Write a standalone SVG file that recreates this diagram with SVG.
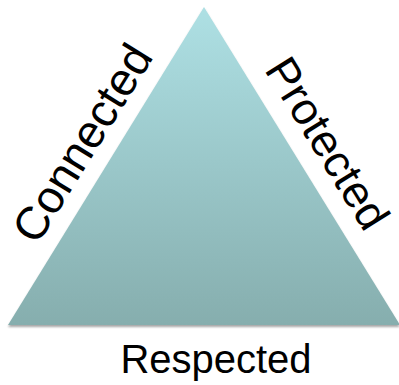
<svg xmlns="http://www.w3.org/2000/svg" width="399" height="385" viewBox="0 0 399 385">
<defs>
<linearGradient id="g" x1="0" y1="0" x2="0" y2="1">
<stop offset="0" stop-color="#AEE0E4"/>
<stop offset="1" stop-color="#86AEAE"/>
</linearGradient>
<filter id="sh" x="-5%" y="-5%" width="110%" height="115%">
<feGaussianBlur in="SourceAlpha" stdDeviation="1.2"/>
<feOffset dy="2" result="b"/>
<feComponentTransfer><feFuncA type="linear" slope="0.35"/></feComponentTransfer>
<feMerge><feMergeNode/><feMergeNode in="SourceGraphic"/></feMerge>
</filter>
<style>
.lbl{font-family:"Liberation Sans",Arial,sans-serif;font-size:46px;fill:#000;text-anchor:middle}
</style>
</defs>
<rect width="399" height="385" fill="#fff"/>
<g id="triangle">
<polygon points="204,7 8,325 400,325" fill="url(#g)" filter="url(#sh)"/>
</g>
<g id="connectors"/>
<g id="connected">
<text class="lbl" transform="translate(82,143) rotate(-58.3)" x="0" y="16">Connected</text>
</g>
<g id="protected">
<text class="lbl" transform="translate(328,143) rotate(58.3)" x="0" y="16" style="font-size:45px">Protected</text>
</g>
<g id="respected">
<text class="lbl" x="216" y="373" style="font-size:40px">Respected</text>
</g>
</svg>
